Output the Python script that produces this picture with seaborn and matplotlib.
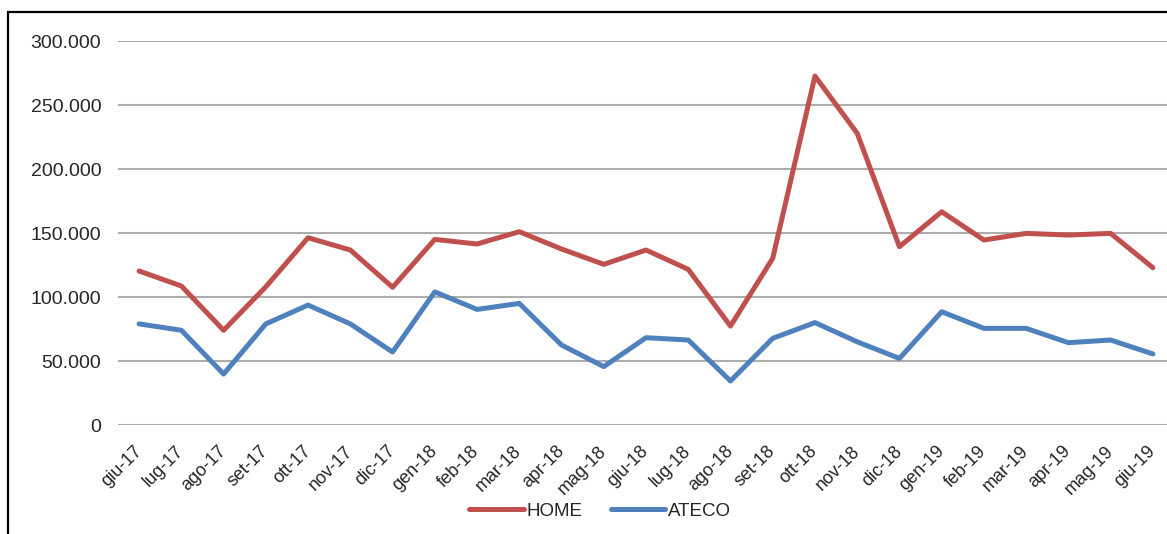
import matplotlib
matplotlib.use("Agg")
import matplotlib.pyplot as plt
import matplotlib.ticker as mticker
from matplotlib.patches import Rectangle
import pandas as pd
import seaborn as sns

months = ["giu-17", "lug-17", "ago-17", "set-17", "ott-17", "nov-17", "dic-17",
          "gen-18", "feb-18", "mar-18", "apr-18", "mag-18", "giu-18", "lug-18",
          "ago-18", "set-18", "ott-18", "nov-18", "dic-18", "gen-19", "feb-19",
          "mar-19", "apr-19", "mag-19", "giu-19"]
home = [120300, 108600, 74000, 108000, 146300, 136700, 107600,
        145000, 141400, 151000, 137500, 125500, 136700, 121600,
        77300, 130200, 272600, 227900, 139300, 166600, 144500,
        149700, 148400, 149700, 122900]
ateco = [79000, 74000, 39800, 79000, 93700, 79000, 57000,
         104000, 90300, 95000, 62500, 45600, 68200, 66400,
         34400, 67700, 80000, 65000, 52000, 88500, 75500,
         75500, 64300, 66400, 55500]
series_names = ["HOME", "ATECO"]
colors = ["#C0504D", "#4F81BD"]

df = pd.DataFrame({
    "pos": list(range(len(months))) * 2,
    "value": home + ateco,
    "serie": [series_names[0]] * len(months) + [series_names[1]] * len(months),
})

sns.set_theme(style="white")
plt.rcParams["font.family"] = ["Liberation Sans", "DejaVu Sans"]

fig = plt.figure(figsize=(11.67, 5.34), dpi=100)
ax = fig.add_axes([118 / 1167, 109 / 534, (1174 - 118) / 1167, (425 - 41) / 534])

sns.lineplot(data=df, x="pos", y="value", hue="serie", palette=colors,
             linewidth=3.6, ax=ax, legend=False, sort=False)

ax.set_xlim(-0.5, len(months) - 0.5)
ax.set_ylim(0, 300000)
ax.set_yticks(range(0, 300001, 50000))
ax.yaxis.set_major_formatter(mticker.FuncFormatter(
    lambda v, p: f"{int(v):,}".replace(",", ".")))
ax.grid(axis="y", color="#ADADAD", linewidth=1.5)
ax.grid(axis="x", visible=False)
ax.set_axisbelow(True)
for s in ax.spines.values():
    s.set_visible(False)

ax.set_xticks(range(len(months)))
ax.set_xticklabels(months, rotation=45, ha="right", va="center",
                   rotation_mode="anchor", fontsize=13, color="#262626")
ax.tick_params(axis="x", length=0, pad=17)
ax.tick_params(axis="y", length=0, pad=12, labelsize=14, labelcolor="#262626")
ax.set_xlabel("")
ax.set_ylabel("")

handles = [plt.Line2D([], [], color=c, linewidth=3.6) for c in colors]
fig.legend(handles, series_names, loc="center", ncol=2,
           bbox_to_anchor=(600 / 1167, 23 / 534), frameon=False,
           fontsize=13.5, handlelength=2.9, handletextpad=0.15,
           columnspacing=1.5, labelcolor="#262626")

fig.patches.append(Rectangle((8 / 1167, -0.2), 1.5, 0.2 + (534 - 12) / 534,
                             transform=fig.transFigure, fill=False,
                             edgecolor="black", linewidth=1.6))

fig.savefig("out.png", dpi=100)
